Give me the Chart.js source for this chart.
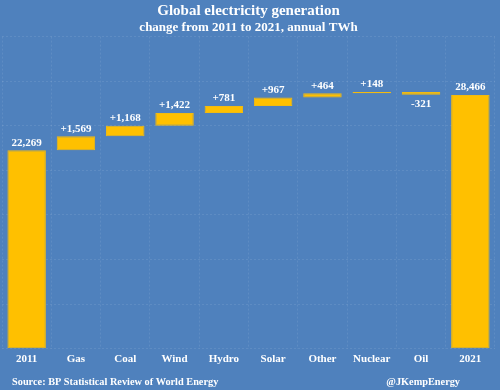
<!DOCTYPE html>
<html>
<head>
<meta charset="utf-8">
<script src="https://cdn.jsdelivr.net/npm/chart.js@4"></script>
<style>
  html, body { margin: 0; padding: 0; background: #4f81bd; }
  #wrap { width: 500px; height: 390px; }
</style>
</head>
<body>
<div id="wrap"><canvas id="myChart" width="500" height="390"></canvas></div>
<script>
// categories and values (TWh)
const categories = ["2011", "Gas", "Coal", "Wind", "Hydro", "Solar", "Other", "Nuclear", "Oil", "2021"];
const startTotal = 22269;
const changes = [1569, 1168, 1422, 781, 967, 464, 148, -321];
const endTotal = 28466;
const yTicks = [0, 5000, 10000, 15000, 20000, 25000, 30000, 35000];

const serif = "'Liberation Serif', 'Times New Roman', serif";
const white = "#ffffff";
const gridColor = "rgba(255,255,255,0.09)";

// build floating bars for the waterfall
var bars = [[0, startTotal]];
var labels = [startTotal.toLocaleString("en-US")];
var running = startTotal;
changes.forEach(function (c) {
    bars.push([running, running + c]);
    labels.push((c >= 0 ? "+" : "-") + Math.abs(c).toLocaleString("en-US"));
    running += c;
});
bars.push([0, endTotal]);
labels.push(endTotal.toLocaleString("en-US"));

const bgPlugin = {
    id: "bg",
    beforeDraw: function (chart) {
        const ctx = chart.ctx;
        ctx.save();
        ctx.fillStyle = "#4f81bd";
        ctx.fillRect(0, 0, chart.width, chart.height);
        ctx.restore();
    }
};

const labelPlugin = {
    id: "barLabels",
    afterDatasetsDraw: function (chart) {
        const ctx = chart.ctx;
        const meta = chart.getDatasetMeta(0);
        ctx.save();
        ctx.font = "bold 11px " + serif;
        ctx.fillStyle = white;
        ctx.textAlign = "center";
        meta.data.forEach(function (bar, i) {
            const v = bars[i];
            if (v[1] < v[0]) {
                ctx.textBaseline = "top";
                ctx.fillText(labels[i], bar.x, Math.max(bar.y, bar.base) + 4);
            } else {
                ctx.textBaseline = "bottom";
                ctx.fillText(labels[i], bar.x, Math.min(bar.y, bar.base) - 2);
            }
        });
        ctx.restore();
    }
};

const footerPlugin = {
    id: "footer",
    afterDraw: function (chart) {
        const ctx = chart.ctx;
        ctx.save();
        ctx.font = "bold 10.3px " + serif;
        ctx.fillStyle = white;
        ctx.textBaseline = "middle";
        ctx.textAlign = "left";
        ctx.fillText("Source: BP Statistical Review of World Energy", 12, 382);
        ctx.textAlign = "right";
        ctx.fillText("@JKempEnergy", 460, 382);
        ctx.restore();
    }
};

new Chart(document.getElementById("myChart"), {
    type: "bar",
    data: {
        labels: categories,
        datasets: [{
            data: bars,
            backgroundColor: "#ffc000",
            borderColor: "#f2bb10",
            borderWidth: 1,
            borderSkipped: false,
            barPercentage: 0.78,
            categoryPercentage: 1.0
        }]
    },
    options: {
        responsive: false,
        animation: false,
        layout: { padding: { left: 2, right: 5, top: 2, bottom: 20 } },
        plugins: {
            legend: { display: false },
            tooltip: { enabled: false },
            title: {
                display: true,
                text: "Global electricity generation",
                color: white,
                font: { family: serif, size: 15, weight: "bold" },
                padding: { top: 0, bottom: 0 }
            },
            subtitle: {
                display: true,
                text: "change from 2011 to 2021, annual TWh",
                color: white,
                font: { family: serif, size: 13, weight: "bold" },
                padding: { top: 0, bottom: 1 }
            }
        },
        scales: {
            x: {
                border: { display: false, dash: [2, 2] },
                grid: {
                    color: gridColor,
                    drawTicks: false
                },
                ticks: {
                    color: white,
                    font: { family: serif, size: 11, weight: "bold" },
                    padding: 4
                }
            },
            y: {
                min: yTicks[0],
                max: yTicks[yTicks.length - 1],
                border: { display: false, dash: [2, 2] },
                grid: {
                    color: gridColor,
                    drawTicks: false
                },
                afterBuildTicks: function (axis) {
                    axis.ticks = yTicks.map(function (v) { return { value: v }; });
                },
                ticks: { display: false }
            }
        }
    },
    plugins: [bgPlugin, labelPlugin, footerPlugin]
});
</script>
</body>
</html>
